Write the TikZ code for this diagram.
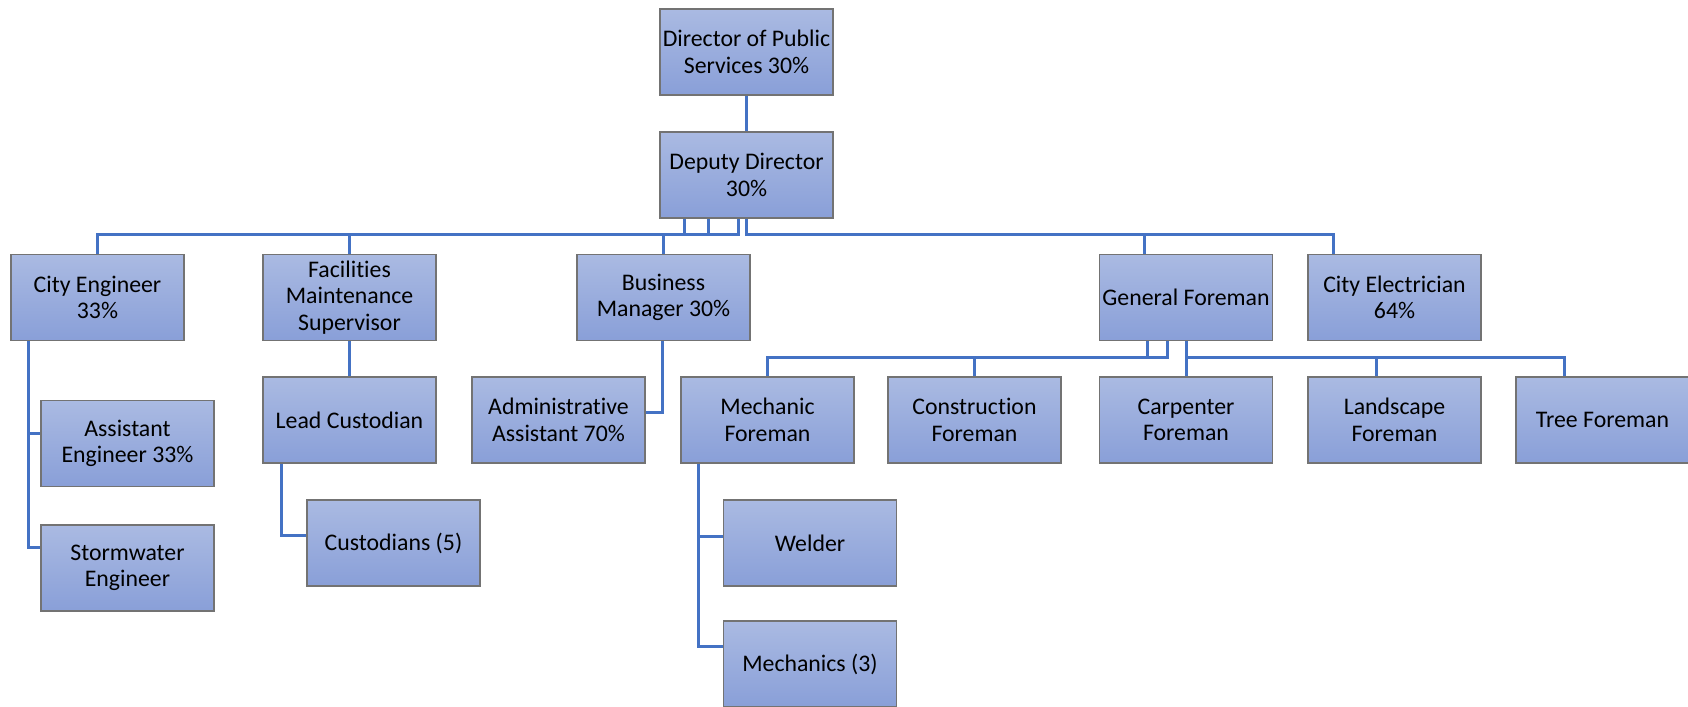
\documentclass[tikz,border=0pt]{standalone}
\usepackage{fontspec}
\setmainfont{Carlito}[Ligatures=NoCommon]
\usetikzlibrary{calc}
\definecolor{boxtop}{RGB}{170,186,226}
\definecolor{boxbot}{RGB}{137,159,216}
\definecolor{boxline}{RGB}{115,115,115}
\definecolor{linkblue}{RGB}{68,114,196}

\begin{document}
\begin{tikzpicture}[x=0.5pt,y=-0.5pt,
    post/.style={draw=boxline, line width=0.8pt, top color=boxtop, bottom color=boxbot,
      minimum width=86.5pt, minimum height=43pt, inner sep=1pt, align=center,
      font=\fontsize{11.9}{13.3}\selectfont},
    link/.style={draw=linkblue, line width=1.5pt}]
      \useasboundingbox (0,0) rectangle (1688,707);
      \node[post] (dir) at (746.5,52) {Director of Public\\Services 30\%};
      \node[post] (dep) at (746.5,175) {Deputy Director\\30\%};
      \node[post] (ce) at (97.5,297.5) {City Engineer\\33\%};
      \node[post] (fms) at (349.5,297.5) {Facilities\\Maintenance\\Supervisor};
      \node[post] (bm) at (663.5,297.5) {Business\\Manager 30\%};
      \node[post] (gf) at (1186,297.5) {General Foreman};
      \node[post] (cel) at (1394.5,297.5) {City Electrician\\64\%};
      \node[post] (ae) at (127.5,443.5) {Assistant\\Engineer 33\%};
      \node[post] (sw) at (127.5,568) {Stormwater\\Engineer};
      \node[post] (lc) at (349.5,420) {Lead Custodian};
      \node[post] (cust) at (393.5,543) {Custodians (5)};
      \node[post] (aa) at (558.5,420) {Administrative\\Assistant 70\%};
      \node[post] (mf) at (767.5,420) {Mechanic\\Foreman};
      \node[post] (cf) at (974.5,420) {Construction\\Foreman};
      \node[post] (cpf) at (1186,420) {Carpenter\\Foreman};
      \node[post] (lf) at (1394.5,420) {Landscape\\Foreman};
      \node[post] (tf) at (1602.5,420) {Tree Foreman};
      \node[post] (wd) at (810,543) {Welder};
      \node[post] (mech) at (810,664) {Mechanics (3)};
      \coordinate (busA) at (0,234);
      \coordinate (busB) at (0,357);
      \draw[link] (dir) -- (dep);
      \draw[link] ($(dep.south)+(-62.5,0)$) |- (busA -| ce) -- (ce);
      \draw[link] ($(dep.south)+(-38.5,0)$) |- (busA -| fms) -- (fms);
      \draw[link] ($(dep.south)+(-8.5,0)$) |- (busA -| bm) -- (bm);
      \draw[link] (dep) -- (busA -| dep) -| ($(gf.north)+(-42,0)$);
      \draw[link] (busA -| dep) -| ($(cel.north)+(-61.5,0)$);
      \draw[link] ($(ce.south)+(-69.5,0)$) |- ($(ae.west)+(0,-10.5)$);
      \draw[link] ($(ce.south)+(-69.5,0)$) |- ($(sw.west)+(0,-21)$);
      \draw[link] (fms) -- (lc);
      \draw[link] ($(lc.south)+(-68.5,0)$) |- ($(cust.west)+(0,-8)$);
      \draw[link] ($(bm.south)+(-1.5,0)$) |- ($(aa.east)+(0,-8)$);
      \draw[link] ($(gf.south)+(-39,0)$) |- (busB -| mf) -- (mf);
      \draw[link] ($(gf.south)+(-19,0)$) |- (busB -| cf) -- (cf);
      \draw[link] (gf) -- (cpf);
      \draw[link] (busB -| gf) -| ($(lf.north)+(-18.5,0)$);
      \draw[link] (busB -| gf) -| ($(tf.north)+(-38.5,0)$);
      \draw[link] ($(mf.south)+(-69.5,0)$) |- ($(wd.west)+(0,-7)$);
      \draw[link] ($(mf.south)+(-69.5,0)$) |- ($(mech.west)+(0,-18)$);
\end{tikzpicture}
\end{document}
